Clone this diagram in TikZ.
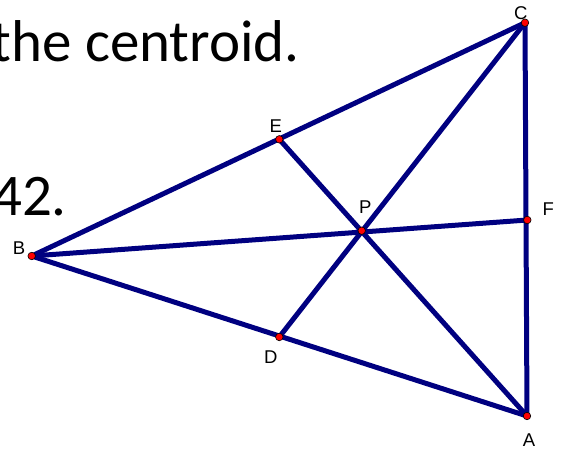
\documentclass[tikz,border=0pt]{standalone}
\usepackage{fontspec}
\usepackage{xcolor}
\usepackage{tikz}
\usetikzlibrary{positioning, calc}

\newfontfamily\slidefont{Carlito}
\newfontfamily\labelfont{Liberation Sans}
\definecolor{segblue}{RGB}{0,0,128}

\begin{document}
\begin{tikzpicture}[
    x=1pt, y=-1pt,
    segment/.style={segblue, line width=5pt, line cap=round, line join=round},
    point/.style={circle, fill=red, draw=black, line width=0.6pt, minimum size=7.5pt, inner sep=0pt},
    point label/.style={font=\labelfont\fontsize{18.5}{20}\selectfont, inner sep=0pt},
    slide text/.style={font=\slidefont\fontsize{59}{62}\selectfont, inner sep=0pt, anchor=base east}
]

\useasboundingbox (0,0) rectangle (565,451);
\clip (0,0) rectangle (565,451);

% --- slide text behind the figure ---
\node[slide text] (title) at (300,61) {the centroid.};
\node[slide text] (number) at (67,215) {42.};

% --- vertices, midpoints and centroid ---
\coordinate (A) at (527,416);
\coordinate (B) at (31.7,256);
\coordinate (C) at (525,22.7);
\coordinate (D) at (279.3,337);
\coordinate (E) at (279.3,139.3);
\coordinate (F) at (527.3,220);
\coordinate (P) at (361.7,230.7);

% triangle
\draw[segment] (A) -- (B) -- (C) -- cycle;

% medians
\draw[segment] (B) -- (F);
\draw[segment] (C) -- (D);
\draw[segment] (A) -- (E);

% dots
\foreach \p in {A,B,C,D,E,F,P}{
    \node[point] (dot\p) at (\p) {};
}

% labels
\node[point label] (labA) at (529,440) {A};
\node[point label] (labB) at (19,247.7) {B};
\node[point label] (labC) at (520.7,12.7) {C};
\node[point label] (labD) at (270.7,356.7) {D};
\node[point label] (labE) at (275.7,126) {E};
\node[point label] (labF) at (548.3,209.3) {F};
\node[point label] (labP) at (365.3,207.3) {P};

\end{tikzpicture}
\end{document}
